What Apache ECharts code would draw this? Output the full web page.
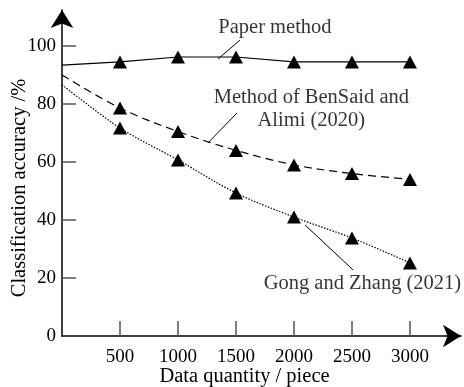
<!DOCTYPE html>
<html>
<head>
<meta charset="utf-8">
<script src="https://cdn.jsdelivr.net/npm/echarts@6/dist/echarts.min.js"></script>
<style>
  html, body { margin: 0; padding: 0; background: #fff; }
  #chart { width: 464px; height: 387px; }
</style>
</head>
<body>
<div id="chart"></div>
<script>
// data
const xTicks = [500, 1000, 1500, 2000, 2500, 3000];
const yTicks = [0, 20, 40, 60, 80, 100];
const xs = [0, 500, 1000, 1500, 2000, 2500, 3000];
const paperMethod = [93.4, 94.5, 96.2, 96.2, 94.5, 94.5, 94.5];
const benSaid = [90, 78.6, 70.5, 64, 59, 56, 54];
const gongZhang = [86.6, 71.7, 60.7, 49.3, 41, 33.8, 25.2];

const noteText = ['Paper method', 'Method of BenSaid and\nAlimi (2020)', 'Gong and Zhang (2021)'];
const notePos = [[1836, 106.4], [2150, 78.4], [2590, 18]];
const leaders = [
  [[1534, 102], [1345, 95.5]],
  [[1509, 76.9], [1259, 66.6]],
  [[2095, 38.3], [2509, 22.8]]
];

const font = 'Liberation Serif';

function pts(ys) {
  return xs.map((x, i) => ({
    value: [x, ys[i]],
    symbol: i === 0 ? 'none' : 'triangle'
  }));
}

function lineSeries(name, ys, type, smooth) {
  return {
    name: name,
    type: 'line',
    data: pts(ys),
    smooth: smooth,
    symbolSize: [14, 13],
    itemStyle: { color: '#000' },
    lineStyle: { color: '#000', width: 1.2, type: type },
    z: 3
  };
}

var chart = echarts.init(document.getElementById('chart'));

chart.setOption({
  animation: false,
  grid: { left: 62, right: 3, top: 10, bottom: 51, outerBoundsMode: 'none', containLabel: false },
  xAxis: {
    type: 'value',
    min: 0,
    max: 3440,
    interval: 500,
    name: 'Data quantity / piece',
    nameLocation: 'middle',
    nameGap: 30,
    nameMoveOverlap: false,
    nameTextStyle: { fontFamily: font, fontSize: 20.5, color: '#000', padding: [0, 34, 0, 0] },
    axisLine: { lineStyle: { color: '#000', width: 1.5 }, symbol: ['none', 'arrow'], symbolSize: [17, 18] },
    axisTick: { inside: true, length: 15, lineStyle: { color: '#555', width: 1.5 }, customValues: xTicks },
    axisLabel: { fontFamily: font, fontSize: 19, color: '#000', margin: 12, customValues: xTicks, formatter: v => String(v) },
    splitLine: { show: false }
  },
  yAxis: {
    type: 'value',
    min: 0,
    max: 112.4,
    interval: 20,
    name: 'Classification accuracy /%',
    nameLocation: 'middle',
    nameGap: 32,
    nameMoveOverlap: false,
    nameTextStyle: { fontFamily: font, fontSize: 20.5, color: '#000', padding: [0, 30, 0, 0] },
    axisLine: { lineStyle: { color: '#000', width: 1.5 }, symbol: ['none', 'arrow'], symbolSize: [17, 18] },
    axisTick: { inside: true, length: 14, lineStyle: { color: '#555', width: 1.5 }, customValues: yTicks.slice(1) },
    axisLabel: { fontFamily: font, fontSize: 19, color: '#000', margin: 6, customValues: yTicks },
    splitLine: { show: false }
  },
  series: [
    lineSeries('Paper method', paperMethod, 'solid', false),
    lineSeries('BenSaid and Alimi (2020)', benSaid, [8, 5], 0.35),
    lineSeries('Gong and Zhang (2021)', gongZhang, [1.5, 1.5], 0.3),
    {
      type: 'lines',
      coordinateSystem: 'cartesian2d',
      data: leaders.map(c => ({ coords: c })),
      lineStyle: { color: '#000', width: 1, opacity: 1 },
      z: 2
    },
    {
      type: 'scatter',
      symbolSize: 0,
      data: notePos.map((p, i) => ({ value: p, name: noteText[i] })),
      label: {
        show: true,
        position: 'inside',
        formatter: p => p.name,
        fontFamily: font,
        fontSize: 20.5,
        lineHeight: 23,
        color: '#000',
        align: 'center'
      },
      z: 4
    }
  ]
});
</script>
</body>
</html>
